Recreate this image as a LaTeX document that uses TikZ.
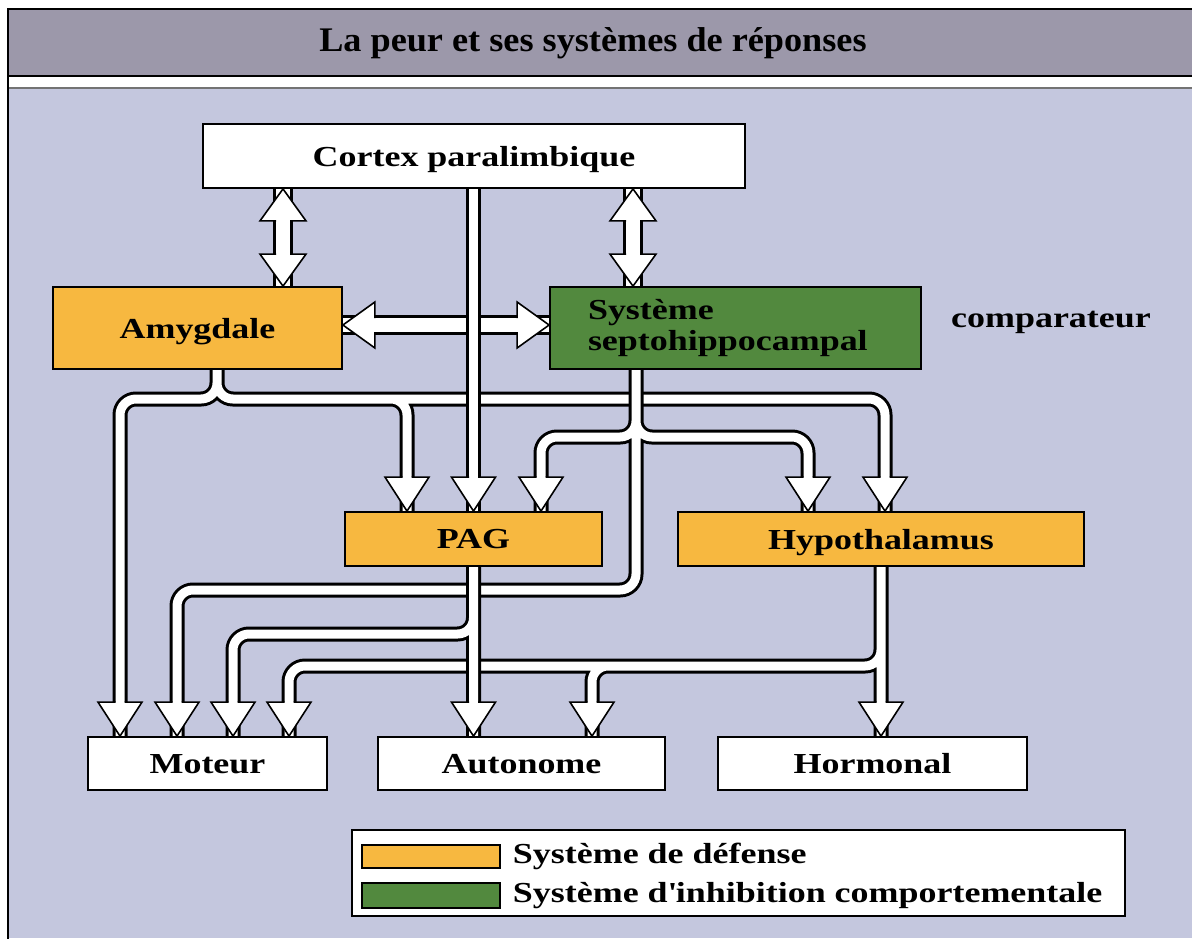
\documentclass[tikz,border=0pt]{standalone}
\usepackage{fontspec}
\setmainfont{Liberation Serif}
\newfontfamily\labfont[FakeStretch=1.24]{Liberation Serif}
\newfontfamily\titlefont[FakeStretch=1.05]{Liberation Serif}
\usetikzlibrary{positioning}

\definecolor{bgblue}{RGB}{196,199,222}
\definecolor{headgray}{RGB}{156,152,170}
\definecolor{defense}{RGB}{247,184,64}
\definecolor{inhib}{RGB}{82,137,62}

\pgfdeclarelayer{bg}
\pgfdeclarelayer{pipes}
\pgfsetlayers{bg,pipes,main}

\newcommand{\lab}{\labfont\bfseries\fontsize{29}{31}\selectfont}
\newcommand{\pipe}[1]{\draw[pipeout] #1; \draw[pipein] #1;}
\newcommand{\dbl}[1]{\draw[dblout] #1; \draw[dblin] #1;}

\tikzset{
	box/.style={draw=black, line width=1.8, inner sep=0pt},
	boxlab/.style={box, text depth=0pt},
	pipeout/.style={draw=black, line width=15, rounded corners=16},
	pipein/.style={draw=white, line width=9, rounded corners=16},
	dblout/.style={draw=black, line width=20},
	dblin/.style={draw=white, line width=14},
	pics/head/.style={code={
		\fill[white] (-22,-34) -- (0,0) -- (22,-34) -- cycle;
		\draw[line width=1.6] (-4.5,-34) -- (-22,-34) -- (0,0) -- (22,-34) -- (4.5,-34);
	}},
	pics/bighead/.style={code={
		\fill[white] (-23,-32) -- (0,0) -- (23,-32) -- cycle;
		\draw[line width=1.6] (-7,-32) -- (-23,-32) -- (0,0) -- (23,-32) -- (7,-32);
	}},
}

\begin{document}
\begin{tikzpicture}[x=1pt, y=-1pt, font=\lab]
			\useasboundingbox (0,0) rectangle (1192,938);

			\begin{pgfonlayer}{bg}
			\fill[white] (0,0) rectangle (1192,938);
			\fill[bgblue] (8,88) rectangle (1192,938);
			\draw[line width=1.2, black!55] (8,88) -- (1192,88);
			\filldraw[fill=headgray, draw=black, line width=2.5] (8,9) rectangle (1200,76);
			\draw[line width=2.5] (8,9) -- (8,940);
			\end{pgfonlayer}

			\node[font=\titlefont\bfseries\fontsize{34.5}{40}\selectfont] (title) at (593,43) {La peur et ses systèmes de réponses};

			% boxes
			\node[boxlab, fill=white, minimum width=542, minimum height=64] (cortex) at (474,156) {Cortex paralimbique};
			\node[boxlab, fill=defense, minimum width=289, minimum height=82] (amyg) at (197.5,328) {Amygdale};
			\node[box, fill=inhib, minimum width=371, minimum height=82, text width=295, align=left] (septo) at (735.5,328) {Système\\septohippocampal};
			\node (comp) at (1051,322) {comparateur};
			\node[boxlab, fill=defense, minimum width=257, minimum height=54] (pag) at (473.5,539) {PAG};
			\node[boxlab, fill=defense, minimum width=406, minimum height=54] (hypo) at (881,539) {Hypothalamus};
			\node[boxlab, fill=white, minimum width=239, minimum height=53] (moteur) at (207.5,763.5) {Moteur};
			\node[boxlab, fill=white, minimum width=287, minimum height=53] (autonome) at (521.5,763.5) {Autonome};
			\node[boxlab, fill=white, minimum width=309, minimum height=53] (hormonal) at (872.5,763.5) {Hormonal};

			% legend
			\node[box, fill=white, minimum width=773, minimum height=86] (legend) at (738.5,873) {};
			\node[box, fill=defense, line width=1.5, minimum width=138, minimum height=23] (swdef) at (431,856.5) {};
			\node[box, fill=inhib, line width=1.5, minimum width=138, minimum height=25] (swinh) at (431,895.5) {};
			\node[inner sep=0pt, right=12pt of swdef] (txdef) {Système de défense};
			\node[inner sep=0pt, right=12pt of swinh] (txinh) {Système d{\textquotesingle}inhibition comportementale};

			% bends
			\coordinate (d1) at (283,238);
			\coordinate (d2) at (633,238);
			\coordinate (d3) at (445,325);
			\coordinate (ja) at (217,399);
			\coordinate (m1) at (120,399);
			\coordinate (p1) at (407,399);
			\coordinate (h2) at (885,399);
			\coordinate (js) at (636,437);
			\coordinate (s1) at (541,437);
			\coordinate (s2) at (808,437);
			\coordinate (s3) at (636,590);
			\coordinate (m2) at (177,590);
			\coordinate (jp) at (473.5,634);
			\coordinate (m3) at (233,634);
			\coordinate (jh) at (881,666);
			\coordinate (a2) at (592,666);
			\coordinate (m4) at (289,666);

			\begin{pgfonlayer}{pipes}
			% two-way arrows
			\dbl{(cortex.south -| d1) -- (amyg.north -| d1)}
			\dbl{(cortex.south -| d2) -- (septo.north -| d2)}
			\dbl{(amyg.east |- d3) -- (septo.west |- d3)}
			\pic[rotate=180] at (cortex.south -| d1) {bighead};
			\pic at (amyg.north -| d1) {bighead};
			\pic[rotate=180] at (cortex.south -| d2) {bighead};
			\pic at (septo.north -| d2) {bighead};
			\pic[rotate=-90] at (amyg.east |- d3) {bighead};
			\pic[rotate=90] at (septo.west |- d3) {bighead};

			% amygdale
			\pipe{(amyg.south -| ja) -- (ja) -- (m1) -- (moteur.north -| m1)
				(amyg.south -| ja) -- (ja) -- (h2) -- (hypo.north -| h2)
				(amyg.south -| ja) -- (ja) -- (p1) -- (pag.north -| p1)}
			\pic at (moteur.north -| m1) {head};
			\pic at (pag.north -| p1) {head};
			\pic at (hypo.north -| h2) {head};

			% septohippocampal
			\pipe{(septo.south -| js) -- (js) -- (s1) -- (pag.north -| s1)
				(septo.south -| js) -- (js) -- (s2) -- (hypo.north -| s2)
				(septo.south -| js) -- (s3) -- (m2) -- (moteur.north -| m2)}
			\pic at (pag.north -| s1) {head};
			\pic at (hypo.north -| s2) {head};
			\pic at (moteur.north -| m2) {head};

			% hypothalamus
			\pipe{(hypo.south -| jh) -- (hormonal.north -| jh)
				(hypo.south -| jh) -- (jh) -- (a2) -- (autonome.north -| a2)
				(hypo.south -| jh) -- (jh) -- (m4) -- (moteur.north -| m4)}
			\pic at (hormonal.north -| jh) {head};
			\pic at (autonome.north -| a2) {head};
			\pic at (moteur.north -| m4) {head};

			% cortex
			\pipe{(cortex.south -| jp) -- (pag.north -| jp)}
			\pic at (pag.north -| jp) {head};

			% PAG
			\pipe{(pag.south -| jp) -- (autonome.north -| jp)
				(pag.south -| jp) -- (jp) -- (m3) -- (moteur.north -| m3)}
			\pic at (autonome.north -| jp) {head};
			\pic at (moteur.north -| m3) {head};
			\end{pgfonlayer}
		\end{tikzpicture}
\end{document}
